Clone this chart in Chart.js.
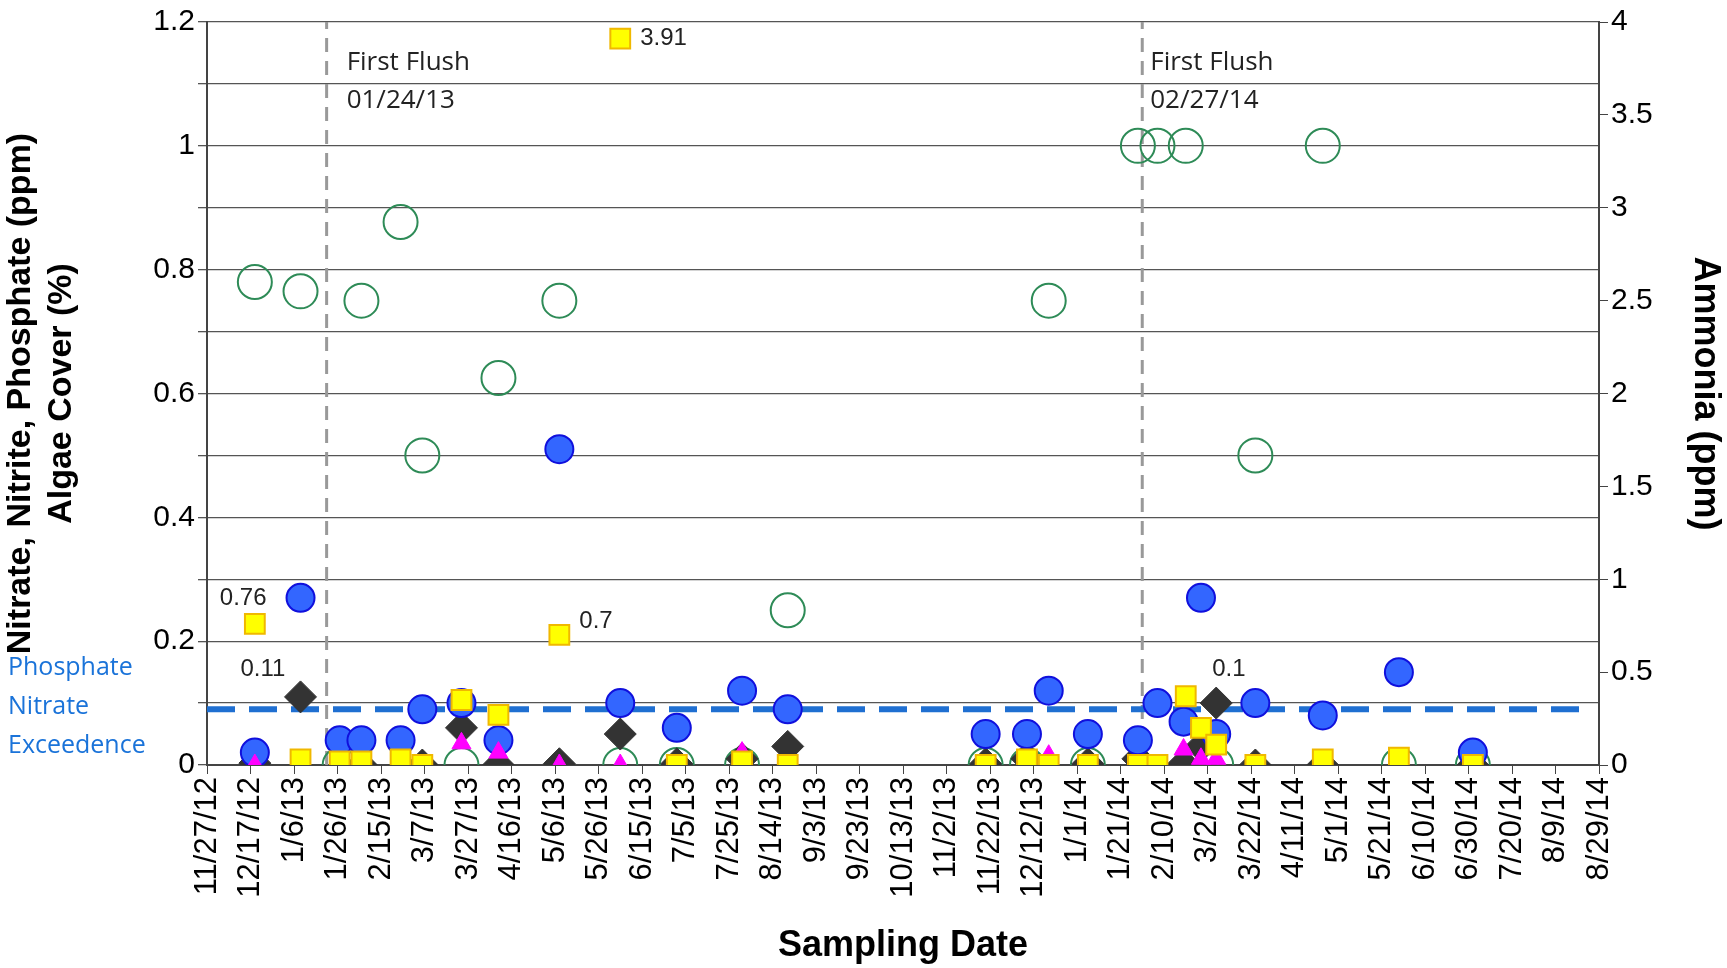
<!DOCTYPE html>
<html><head><meta charset="utf-8">
<script src="https://cdn.jsdelivr.net/npm/chart.js@4/dist/chart.umd.min.js"></script>
<style>html,body{margin:0;padding:0;background:#fff}#wrap{width:1727px;height:968px}</style>
</head><body><div id="wrap"><canvas id="c"></canvas></div>
<script>
// days since 11/27/12
const nitrateDays = [22,43,61,71,89,99,117,134,162,190,216,246,267,358,377,387,405,428,437,449,457,464,482,513,548,582];
const nitrate     = [0.02,0.27,0.04,0.04,0.04,0.09,0.10,0.04,0.51,0.10,0.06,0.12,0.09,0.05,0.05,0.12,0.05,0.04,0.10,0.07,0.27,0.05,0.10,0.08,0.15,0.02];
const algaeDays = [22,43,61,71,89,99,117,134,162,190,216,246,267,358,377,387,405,428,437,450,457,464,482,513,548,582];
const algae     = [0.78,0.765,0,0.75,0.877,0.5,0,0.625,0.75,0,0,0,0.25,0,0,0.75,0,1,1,1,0,0,0.5,1,0,0];
const ammoniaDays = [22,43,61,71,89,99,117,134,162,190,216,246,267,358,377,387,405,428,437,450,457,464,482,513,548,582];
const ammonia     = [0.76,0.03,0.02,0.02,0.03,0,0.35,0.27,0.7,3.91,0,0.02,0,0,0.03,0,0,0,0,0.37,0.2,0.11,0,0.03,0.04,0];
const phosDays = [22,43,71,99,117,134,162,190,216,246,267,358,377,405,428,449,457,464,482,513,582];
const phosphate = [0.003,0.11,0,0,0.06,0,0.002,0.05,0.002,0.01,0.03,0.002,0.01,0.002,0.01,0.002,0.03,0.10,0,0,0];
const nitriteDays = [22,43,89,117,134,162,190,246,387,449,457,464,513,548];
const nitrite     = [0,0,0,0.035,0.02,0,0,0.02,0.015,0.025,0.01,0.01,0,0];
const exceedence = 0.09;
const flushDays = [55, 430];
const flushLabels = ['01/24/13', '02/27/14'];

const pts = (xs, ys) => xs.map((x, i) => ({x, y: ys[i]}));

const notes = {
  id: 'notes',
  afterDatasetsDraw(chart) {
    const c = chart.ctx, xs = chart.scales.x, yl = chart.scales.y, yr = chart.scales.y2;
    c.save();
    c.fillStyle = '#222';
    c.font = '26px "Open Sans"';
    c.textBaseline = 'middle';
    const off = [20, 8];
    flushDays.forEach((d, i) => {
      const px = xs.getPixelForValue(d) + off[i];
      c.fillText('First Flush', px, yl.getPixelForValue(1.135));
      c.fillText(flushLabels[i], px, yl.getPixelForValue(1.073));
    });
    c.font = '24px "Liberation Sans"';
    const lab = (t, d, v, ax, dx, dy) => c.fillText(t, xs.getPixelForValue(d) + dx, ax.getPixelForValue(v) + dy);
    lab('0.76', 22, 0.76, yr, -35, -25);
    lab('0.11', 43, 0.11, yl, -60, -28);
    lab('3.91', 190, 3.91, yr, 20, 0);
    lab('0.7', 162, 0.7, yr, 20, -14);
    lab('0.1', 464, 0.10, yl, -4, -34);
    c.fillStyle = '#1a73d9';
    c.font = '25px "Open Sans"';
    ['Phosphate', 'Nitrate', 'Exceedence'].forEach((t, i) => c.fillText(t, 8, 668 + i * 39));
    c.restore();
  }
};

new Chart(document.getElementById('c'), {
  type: 'scatter',
  data: {
    datasets: [
      {label: 'Exceedence', type: 'line', data: [{x: 0, y: exceedence}, {x: 634, y: exceedence}], borderColor: '#1f6fd1', borderWidth: 6, borderDash: [28, 14], pointRadius: 0, yAxisID: 'y', order: 9},
      {label: 'Flush1', type: 'line', data: [{x: flushDays[0], y: 0}, {x: flushDays[0], y: 1.2}], borderColor: '#999', borderWidth: 3, borderDash: [14, 9], pointRadius: 0, order: 10},
      {label: 'Flush2', type: 'line', data: [{x: flushDays[1], y: 0}, {x: flushDays[1], y: 1.2}], borderColor: '#999', borderWidth: 3, borderDash: [14, 9], pointRadius: 0, order: 10},
      {label: 'Algae Cover', data: pts(algaeDays, algae), pointStyle: 'circle', pointRadius: 17, backgroundColor: 'rgba(0,0,0,0)', borderColor: '#2e8b57', borderWidth: 2, order: 8},
      {label: 'Nitrate', data: pts(nitrateDays, nitrate), pointStyle: 'circle', pointRadius: 14, backgroundColor: '#3366ff', borderColor: '#1010dd', borderWidth: 2, order: 6},
      {label: 'Phosphate', data: pts(phosDays, phosphate), pointStyle: 'rectRot', pointRadius: 16, backgroundColor: '#333', borderColor: '#333', borderWidth: 1, order: 7},
      {label: 'Nitrite', data: pts(nitriteDays, nitrite), pointStyle: 'triangle', pointRadius: 11, backgroundColor: '#ff00ff', borderColor: '#ff00ff', borderWidth: 1, order: 5},
      {label: 'Ammonia', data: pts(ammoniaDays, ammonia), yAxisID: 'y2', pointStyle: 'rect', pointRadius: 14, backgroundColor: '#ffff00', borderColor: '#f0b800', borderWidth: 2, order: 4}
    ]
  },
  options: {
    responsive: true, maintainAspectRatio: false, animation: false,
    layout: {padding: {top: 22, left: 0, right: 0, bottom: 0}},
    plugins: {legend: {display: false}, tooltip: {enabled: false}},
    scales: {
      x: {
        type: 'linear', min: 0, max: 640,
        afterFit: s => { s.height = 968 - 765; },
        ticks: {
          stepSize: 20, autoSkip: false, maxRotation: 90, minRotation: 90, color: '#000',
          font: {size: 31, family: 'Liberation Sans'},
          callback: v => { const d = new Date(2012, 10, 27 + v); return (d.getMonth() + 1) + '/' + d.getDate() + '/' + String(d.getFullYear()).slice(2); }
        },
        grid: {drawOnChartArea: false, color: '#444', tickLength: 9},
        border: {color: '#444', width: 2},
        title: {display: true, text: 'Sampling Date', color: '#000', font: {size: 36, weight: 'bold', family: 'Liberation Sans'}, padding: {top: 0, bottom: 0}}
      },
      y: {
        position: 'left', min: 0, max: 1.2,
        afterFit: s => { s.width = 207; },
        ticks: {stepSize: 0.1, color: '#000', font: {size: 30, family: 'Liberation Sans'},
          callback: v => { const r = Math.round(v * 10); return r % 2 === 0 ? String(r / 10) : ''; }},
        grid: {color: '#555', lineWidth: 1.3, tickLength: 9},
        border: {color: '#444', width: 2},
        title: {display: true, text: ['Nitrate, Nitrite, Phosphate (ppm)', 'Algae Cover (%)'], color: '#000', font: {size: 34, weight: 'bold', family: 'Liberation Sans'}, padding: 0}
      },
      y2: {
        position: 'right', min: 0, max: 4,
        afterFit: s => { s.width = 128; },
        ticks: {stepSize: 0.5, color: '#000', font: {size: 30, family: 'Liberation Sans'}, callback: v => String(v)},
        grid: {drawOnChartArea: false, color: '#444', tickLength: 9},
        border: {color: '#444', width: 2},
        title: {display: true, text: 'Ammonia (ppm)', color: '#000', font: {size: 36, weight: 'bold', family: 'Liberation Sans'}, padding: 0}
      }
    }
  },
  plugins: [notes]
});
</script></body></html>
